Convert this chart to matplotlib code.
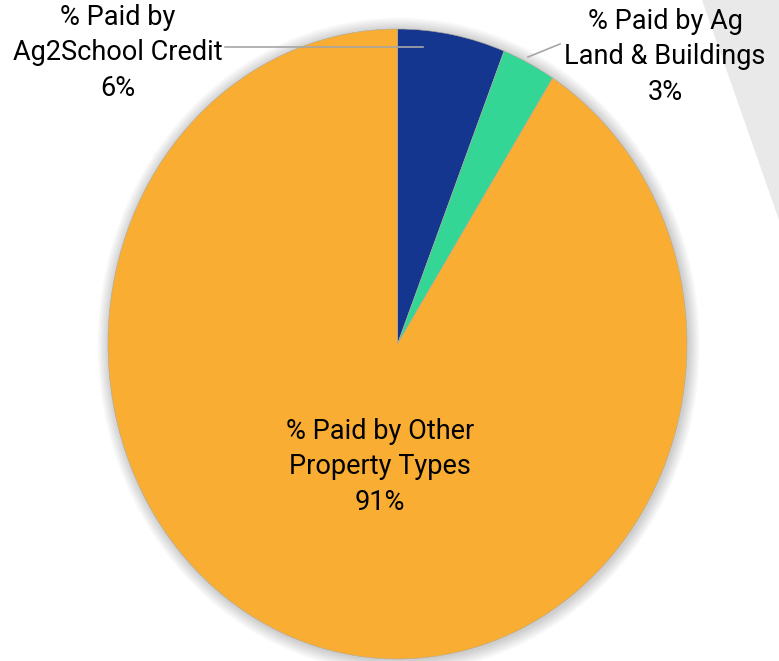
import matplotlib.pyplot as plt
from matplotlib.patches import Ellipse, Polygon

# share of school tax paid
labels = ['% Paid by\nAg2School Credit', '% Paid by Ag\nLand & Buildings', '% Paid by Other\nProperty Types']
values = [6, 3, 91]
colors = ['#14368f', '#33d695', '#f9ae33']

W, H = 779, 661
fig = plt.figure(figsize=(W / 100, H / 100), dpi=100)
fig.patch.set_facecolor('white')

# grey slide decoration on the right edge
fig.patches.append(Polygon([(702 / W, 1), (1, 1), (1, 1 - 220 / H)], closed=True,
                           transform=fig.transFigure, facecolor='#e9e9e9', edgecolor='none', zorder=0))

# axes sized to the pie's bounding box (pie is slightly taller than wide)
left, right, top, bottom = 108, 687, 29, 659
ax = fig.add_axes([left / W, 1 - bottom / H, (right - left) / W, (bottom - top) / H])
ax.set_xlim(-1, 1)
ax.set_ylim(-1, 1)
ax.axis('off')
cx, cy = (left + right) / 2, (top + bottom) / 2
rx, ry = (right - left) / 2, (bottom - top) / 2


def to_data(px, py):
    return (px - cx) / rx, (cy - py) / ry


# soft shadow behind the pie
for i in range(8):
    r = 1.04 - i * 0.005
    ax.add_patch(Ellipse((0.004, -0.004), 2 * r, 2 * r, facecolor='#000000',
                         alpha=0.025, edgecolor='none', zorder=0, clip_on=False))

wedges, _ = ax.pie(values, colors=colors, startangle=90, counterclock=False, radius=1,
                   wedgeprops=dict(edgecolor='#b0a89a', linewidth=0.4))
for w in wedges:
    w.set_clip_on(False)
ax.set_aspect('auto')
ax.set_xlim(-1, 1)
ax.set_ylim(-1, 1)

# leader lines
x0, y0 = to_data(225, 47)
x1, y1 = to_data(423, 47)
ax.plot([x0, x1], [y0, y1], color='#a6a6a6', lw=1.2, clip_on=False)
x0, y0 = to_data(528, 57)
x1, y1 = to_data(560, 44)
ax.plot([x0, x1], [y0, y1], color='#a6a6a6', lw=1.2, clip_on=False)

font = ['Roboto', 'DejaVu Sans']
text_pos = [(118, 53), (665, 57), (380, 467)]
for lab, v, (px, py) in zip(labels, values, text_pos):
    fig.text(px / W, 1 - py / H, f'{lab}\n{v}%', ha='center', va='center',
             fontsize=19.5, family=font, linespacing=1.4, color='black')

fig.savefig('out.png', dpi=100)
